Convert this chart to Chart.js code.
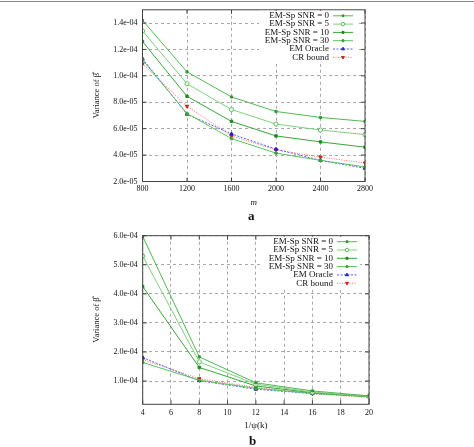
<!DOCTYPE html>
<html>
<head>
<meta charset="utf-8">
<script src="https://cdn.jsdelivr.net/npm/chart.js@4"></script>
<style>
  body { margin:0; background:#fff; }
  #wrap { position:relative; width:474px; height:447px; overflow:hidden; background:#fff; }
  #topline { position:absolute; left:0; top:1px; width:474px; height:0; border-top:1px solid #8a8a8a; }
  canvas { position:absolute; left:0; }
  .panel { position:absolute; font-family:"Liberation Serif",serif; font-weight:bold; font-size:13px; color:#111; }
</style>
</head>
<body>
<div id="wrap">
  <div id="topline"></div>
  <canvas id="chartA" width="474" height="225" style="top:0"></canvas>
  <canvas id="chartB" width="474" height="222" style="top:225px"></canvas>
  <div class="panel" style="left:248px;top:208px">a</div>
  <div class="panel" style="left:249px;top:433px">b</div>
</div>
<script>
// series names
const seriesNames = ['EM-Sp SNR = 0','EM-Sp SNR = 5','EM-Sp SNR = 10','EM-Sp SNR = 30','EM Oracle','CR bound']

// panel a: variance vs m
const mValues = [800,1200,1600,2000,2400,2800]
const snr0A   = [1.42e-4,1.03e-4,8.4e-5,7.3e-5,6.85e-5,6.55e-5]
const snr5A   = [1.34e-4,9.4e-5,7.45e-5,6.35e-5,5.9e-5,5.55e-5]
const snr10A  = [1.26e-4,8.45e-5,6.55e-5,5.45e-5,5.0e-5,4.6e-5]
const snr30A  = [1.12e-4,7.15e-5,5.25e-5,4.15e-5,3.6e-5,3.1e-5]
const oracleA = [1.13e-4,7.1e-5,5.6e-5,4.45e-5,3.6e-5,3.0e-5]
const crA     = [1.09e-4,7.7e-5,5.45e-5,4.4e-5,3.85e-5,3.4e-5]
const xTicksA = [800,1200,1600,2000,2400,2800]
const yTicksA = [2e-5,4e-5,6e-5,8e-5,1e-4,1.2e-4,1.4e-4]

// panel b: variance vs 1/psi(k)
const psiValues = [4,8,12,16,20]
const snr0B   = [5.98e-4,1.83e-4,9.4e-5,6.6e-5,4.9e-5]
const snr5B   = [5.3e-4,1.66e-4,8.9e-5,6.2e-5,4.7e-5]
const snr10B  = [4.25e-4,1.47e-4,8.3e-5,6.0e-5,4.6e-5]
const snr30B  = [1.64e-4,1.03e-4,7.5e-5,5.8e-5,4.6e-5]
const oracleB = [1.81e-4,1.01e-4,7.2e-5,5.7e-5,4.9e-5]
const crB     = [1.74e-4,1.08e-4,7.8e-5,5.6e-5,4.3e-5]
const xTicksB = [4,6,8,10,12,14,16,18,20]
const yTicksB = [1e-4,2e-4,3e-4,4e-4,5e-4,6e-4]

const styles = [
  {line:'#52b852', pt:'#2f9a2f', shape:'rect', r:1.5, fill:true},
  {line:'#7fd07f', pt:'#5cbf5c', shape:'circle', r:2.1, fill:false},
  {line:'#3aa53a', pt:'#1f8a1f', shape:'rect', r:1.7, fill:true},
  {line:'#5cc25c', pt:'#3aa53a', shape:'circle', r:1.4, fill:true},
  {line:'#5a5aff', pt:'#2020c0', shape:'triangle', r:2, fill:true, dash:[2,1.5]},
  {line:'#ff6a6a', pt:'#d02020', shape:'triangle', r:2, fill:true, dash:[1,1.5], rot:180}
]

const serif = '"Liberation Serif", "DejaVu Serif", serif'

function fmtExp(v)
{
    let s = v.toExponential(1)
    let parts = s.split('e')
    let exp = parseInt(parts[1])
    let sign = exp < 0 ? '-' : '+'
    let a = Math.abs(exp)
    return parts[0] + 'e' + sign + (a < 10 ? '0' + a : a)
}

function makeDatasets(xs, lists)
{
    return lists.map((vals, i) => {
        let st = styles[i]
        return {
            label: seriesNames[i],
            data: xs.map((x, j) => ({x: x, y: vals[j]})),
            borderColor: st.line,
            borderWidth: 1,
            borderDash: st.dash || [],
            pointStyle: st.shape,
            pointRadius: st.r,
            pointRotation: st.rot || 0,
            pointBorderColor: st.pt,
            pointBackgroundColor: st.fill ? st.pt : '#fff',
            pointBorderWidth: 1,
            tension: 0,
            fill: false
        }
    })
}

// frame, inward ticks and the key, drawn like gnuplot does
const framePlugin = {
    id: 'frame',
    afterDatasetsDraw(chart)
    {
        const ctx = chart.ctx
        const a = chart.chartArea
        const sx = chart.scales.x, sy = chart.scales.y
        ctx.save()
        ctx.strokeStyle = '#444'
        ctx.lineWidth = 1
        ctx.setLineDash([])
        ctx.strokeRect(a.left, a.top, a.right - a.left, a.bottom - a.top)
        ctx.beginPath()
        sx.ticks.forEach(t => {
            let px = sx.getPixelForValue(t.value)
            ctx.moveTo(px, a.bottom); ctx.lineTo(px, a.bottom - 4)
            ctx.moveTo(px, a.top); ctx.lineTo(px, a.top + 4)
        })
        sy.ticks.forEach(t => {
            let py = sy.getPixelForValue(t.value)
            ctx.moveTo(a.left, py); ctx.lineTo(a.left + 4, py)
            ctx.moveTo(a.right, py); ctx.lineTo(a.right - 4, py)
        })
        ctx.stroke()

        // key
        ctx.fillStyle = '#fff'
        ctx.fillRect(a.right - 106, a.top + 1, 97, 53)
        ctx.font = '9px ' + serif
        ctx.textAlign = 'right'
        ctx.textBaseline = 'middle'
        chart.data.datasets.forEach((ds, i) => {
            let y = a.top + 6 + i * 8.3
            ctx.fillStyle = '#111'
            ctx.fillText(ds.label, a.right - 36, y)
            ctx.strokeStyle = ds.borderColor
            ctx.setLineDash(ds.borderDash)
            ctx.beginPath()
            ctx.moveTo(a.right - 32, y); ctx.lineTo(a.right - 12, y)
            ctx.stroke()
            ctx.setLineDash([])
            ctx.fillStyle = ds.pointBackgroundColor
            ctx.strokeStyle = ds.pointBorderColor
            Chart.helpers.drawPoint(ctx, {
                pointStyle: ds.pointStyle, radius: ds.pointRadius * 0.85, rotation: ds.pointRotation,
                borderWidth: 1
            }, a.right - 22, y)
        })
        ctx.restore()
    }
}

function makeChart(id, datasets, cfg)
{
    return new Chart(document.getElementById(id), {
        type: 'line',
        data: {datasets: datasets},
        plugins: [framePlugin],
        options: {
            responsive: false,
            animation: false,
            events: [],
            layout: {padding: {left: 90, right: cfg.right, top: cfg.top, bottom: 0}},
            plugins: {legend: {display: false}, tooltip: {enabled: false}},
            scales: {
                x: {
                    type: 'linear',
                    min: cfg.xMin, max: cfg.xMax,
                    afterBuildTicks: s => { s.ticks = cfg.xTicks.map(v => ({value: v})) },
                    afterFit: s => { s.height = cfg.xHeight },
                    grid: {color: '#a8a8a8', lineWidth: 1, tickLength: 0, drawTicks: false},
                    border: {display: false, dash: [3, 3]},
                    ticks: {color: '#111', font: {family: serif, size: 8}, padding: cfg.xPad, maxRotation: 0,
                        callback: v => String(v)},
                    title: {display: true, text: cfg.xTitle, color: '#111',
                        font: {family: serif, size: 9, style: cfg.xStyle}, padding: {top: 0, bottom: cfg.titlePad}}
                },
                y: {
                    type: 'linear',
                    min: cfg.yMin, max: cfg.yMax,
                    afterBuildTicks: s => { s.ticks = cfg.yTicks.map(v => ({value: v})) },
                    afterFit: s => { s.width = cfg.left - 90 },
                    grid: {color: '#a8a8a8', lineWidth: 1, tickLength: 0, drawTicks: false},
                    border: {display: false, dash: [3, 3]},
                    ticks: {color: '#111', font: {family: serif, size: 8}, padding: 5,
                        callback: v => fmtExp(v)},
                    title: {display: true, text: 'Variance of \u03B2\u0302', color: '#111',
                        font: {family: serif, size: 8.5}, padding: {top: 2, bottom: 0}}
                }
            }
        }
    })
}

makeChart('chartA', makeDatasets(mValues, [snr0A, snr5A, snr10A, snr30A, oracleA, crA]), {
    left: 142.5, right: 109, top: 8.3, xHeight: 43.5,
    xMin: 800, xMax: 2800, xTicks: xTicksA,
    yMin: 2e-5, yMax: 1.5e-4, yTicks: yTicksA,
    xTitle: 'm', xStyle: 'italic', xPad: 3, titlePad: 17
})

makeChart('chartB', makeDatasets(psiValues, [snr0B, snr5B, snr10B, snr30B, oracleB, crB]), {
    left: 142.7, right: 105, top: 10.7, xHeight: 42.7,
    xMin: 4, xMax: 20, xTicks: xTicksB,
    yMin: 2e-5, yMax: 6e-4, yTicks: yTicksB,
    xTitle: '1/\u03C8(k)', xStyle: 'normal', xPad: 4, titlePad: 16
})
</script>
</body>
</html>
